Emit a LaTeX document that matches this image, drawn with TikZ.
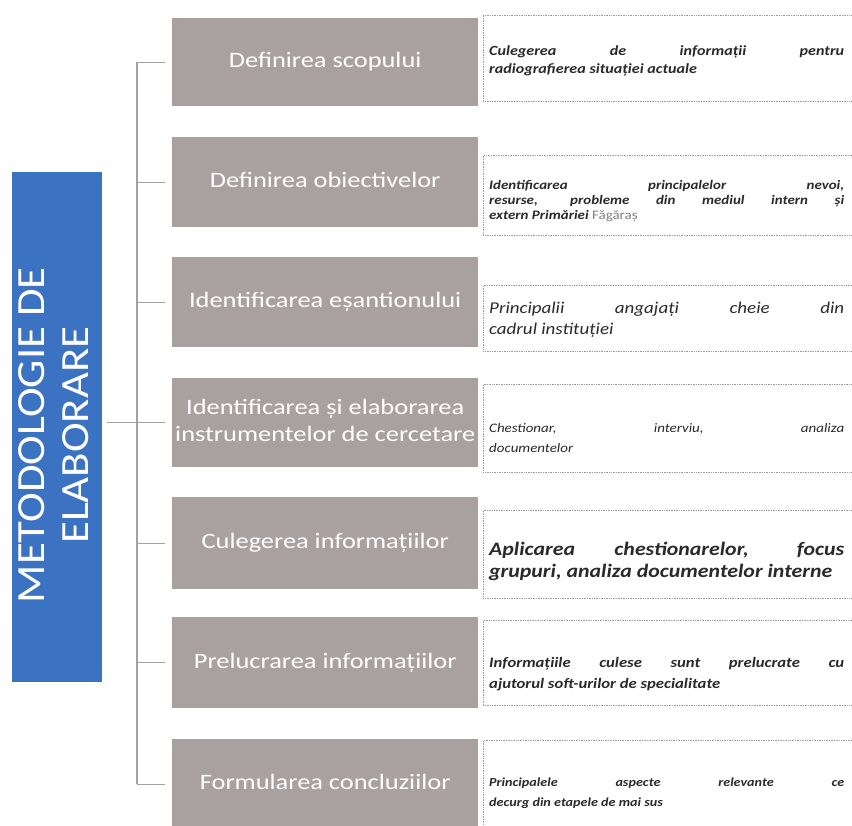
\documentclass[tikz,border=0pt]{standalone}
\usepackage{fontspec}
\usepackage{graphicx}
\setmainfont{Carlito}
\definecolor{grayfill}{HTML}{A9A19F}
\definecolor{bluefill}{HTML}{3B73C2}
\definecolor{linegray}{HTML}{A2A2A2}
\definecolor{bordergray}{HTML}{9A9A9A}
\definecolor{desctext}{HTML}{2A2A2A}
\newcommand{\gtxt}[1]{\scalebox{1.2}[1]{\begin{tabular}{@{}c@{}}#1\end{tabular}}}
\newcommand{\dtxt}[4]{\scalebox{1.15}[1]{\parbox{308.7pt}{\fontsize{#1}{#2}\selectfont#3#4}}}
\begin{document}
\begin{tikzpicture}[x=1pt,y=-1pt,
  graybox/.style={fill=grayfill, draw=none, minimum width=306pt, inner sep=0pt,
    text=white, font=\fontsize{22}{27}\selectfont, align=center, anchor=north west},
  descbox/.style={draw=bordergray, densely dotted, line width=0.7pt, minimum width=390pt,
    inner sep=0pt, anchor=north west},
  desctxt/.style={anchor=west, inner sep=0pt, text=desctext},
  conn/.style={draw=linegray, line width=1.2pt}
]
\useasboundingbox (0,0) rectangle (852,826);

% title box
\node[fill=bluefill, minimum width=90pt, minimum height=510pt, inner sep=0pt, anchor=north west]
  (title) at (12,172) {};
\node[rotate=90, text=white, inner sep=0pt, font=\fontsize{40}{44}\selectfont]
  (titletext) at ([yshift=-8pt]title.center)
  {\scalebox{1.12}[1]{\begin{tabular}{@{}c@{}}METODOLOGIE DE\\ELABORARE\end{tabular}}};

% gray step boxes
\node[graybox, minimum height=88pt] (g1) at (172,18) {\gtxt{Definirea scopului}};
\node[graybox, minimum height=90pt] (g2) at (172,137) {\gtxt{Definirea obiectivelor}};
\node[graybox, minimum height=90pt] (g3) at (172,257) {\gtxt{Identificarea eșantionului}};
\node[graybox, minimum height=89pt] (g4) at (172,378) {\gtxt{Identificarea și elaborarea\\instrumentelor de cercetare}};
\node[graybox, minimum height=92pt] (g5) at (172,497) {\gtxt{Culegerea informațiilor}};
\node[graybox, minimum height=91pt] (g6) at (172,617) {\gtxt{Prelucrarea informațiilor}};
\node[graybox, minimum height=90pt] (g7) at (172,739) {\gtxt{Formularea concluziilor}};

% description boxes
\node[descbox, minimum height=86pt] (d1) at (483,15) {};
\node[descbox, minimum height=80pt] (d2) at (483,155) {};
\node[descbox, minimum height=66pt] (d3) at (483,285) {};
\node[descbox, minimum height=88pt] (d4) at (483,384) {};
\node[descbox, minimum height=88pt] (d5) at (483,510) {};
\node[descbox, minimum height=85pt] (d6) at (483,620) {};
\node[descbox, minimum height=95pt] (d7) at (483,740) {};

\node[desctxt] (t1) at (489,61)
  {\dtxt{14}{18}{\bfseries\itshape}{Culegerea de informații pentru\linebreak radiografierea situației actuale}};
\node[desctxt] (t2) at (489,201)
  {\dtxt{13}{15}{\bfseries\itshape}{Identificarea principalelor nevoi,\linebreak resurse, probleme din mediul intern și\linebreak extern Primăriei {\mdseries\upshape\color{gray} Făgăraș}}};
\node[desctxt] (t3) at (489,320)
  {\dtxt{16.5}{21}{\itshape}{Principalii angajați cheie din\linebreak cadrul instituției}};
\node[desctxt] (t4) at (489,438)
  {\dtxt{13}{20}{\itshape}{Chestionar, interviu, analiza\linebreak documentelor}};
\node[desctxt] (t5) at (489,561)
  {\dtxt{19}{22}{\bfseries\itshape}{Aplicarea chestionarelor, focus\linebreak grupuri, analiza documentelor interne}};
\node[desctxt] (t6) at (489,674)
  {\dtxt{14.5}{21}{\bfseries\itshape}{Informațiile culese sunt prelucrate cu\linebreak ajutorul soft-urilor de specialitate}};
\node[desctxt] (t7) at (489,793)
  {\dtxt{12.3}{20}{\bfseries\itshape}{Principalele aspecte relevante ce\linebreak decurg din etapele de mai sus}};

% connectors
\coordinate (spine) at (137,0);
\draw[conn] (spine |- g1.west) -- (spine |- g7.west);
\foreach \i in {1,...,7} {
  \draw[conn] (spine |- g\i.west) -- ([xshift=-7pt]g\i.west);
}
\draw[conn] ([xshift=5pt]title.east |- g4.west) -- (spine |- g4.west);
\end{tikzpicture}
\end{document}
